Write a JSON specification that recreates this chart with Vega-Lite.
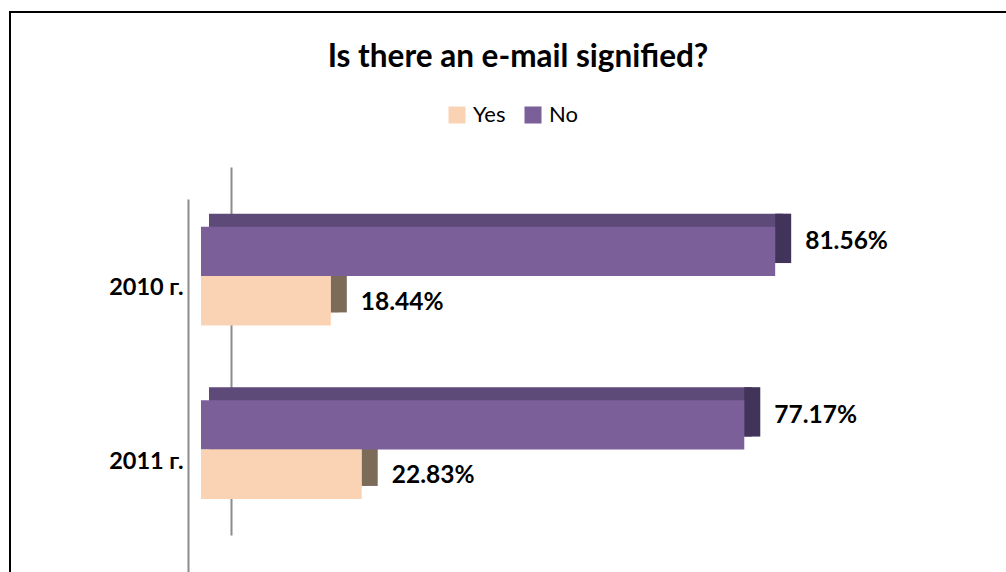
{
  "$schema": "https://vega.github.io/schema/vega-lite/v6.json",
  "autosize": {"type": "none"},
  "padding": {"left": 10, "top": 12, "right": 0, "bottom": 0},
  "width": 998,
  "height": 561,
  "background": "white",
  "config": {
    "view": {"stroke": "black", "strokeWidth": 2},
    "font": "Lato"
  },
  "title": {
    "text": "Is there an e-mail signified?",
    "font": "Lato",
    "fontSize": 31.5,
    "fontWeight": "bold",
    "color": "black",
    "anchor": "middle",
    "dx": 9,
    "offset": -61,
    "baseline": "top"
  },
  "data": {
    "values": [
      {"year": "2010 г.", "series": "No", "value": 81.56, "label": "81.56%"},
      {"year": "2010 г.", "series": "Yes", "value": 18.44, "label": "18.44%"},
      {"year": "2011 г.", "series": "No", "value": 77.17, "label": "77.17%"},
      {"year": "2011 г.", "series": "Yes", "value": 22.83, "label": "22.83%"}
    ]
  },
  "resolve": {"scale": {"y": "independent"}, "axis": {"y": "independent"}},
  "layer": [
    {
      "mark": {"type": "point", "opacity": 0},
      "encoding": {
        "x": {"field": "value", "type": "quantitative", "scale": {"domain": [-27.13, 114.63], "nice": false, "zero": false}, "axis": null},
        "y": {
          "field": "year", "type": "nominal",
          "scale": {"range": [187, 563]},
          "axis": {"orient": "left", "offset": -178, "domainColor": "#8c8c8c", "domainWidth": 2, "ticks": false, "labels": false, "title": null}
        }
      }
    },
    {
      "mark": {"type": "point", "opacity": 0},
      "encoding": {
        "x": {"field": "value", "type": "quantitative"},
        "y": {
          "field": "year", "type": "nominal",
          "scale": {"range": [155, 523]},
          "axis": {"orient": "left", "offset": -221, "domainColor": "#8c8c8c", "domainWidth": 2, "ticks": false, "labels": false, "title": null}
        }
      }
    },
    {
      "encoding": {
        "y": {
          "field": "year", "type": "nominal",
          "scale": {"paddingInner": 0.431, "paddingOuter": 0.832, "align": 0.7435, "range": [-13, 548]},
          "axis": null
        },
        "yOffset": {"field": "series", "type": "nominal", "sort": ["No", "Yes"], "scale": {"paddingInner": 0, "paddingOuter": 0}}
      },
      "layer": [
        {
          "mark": {"type": "bar", "xOffset": 8, "x2Offset": 8,
            "color": {"expr": "datum.series === 'Yes' ? '#d9b89c' : '#5e4a79'"}},
          "encoding": {
            "x": {"field": "value", "type": "quantitative"}
          }
        },
        {
          "mark": {"type": "bar", "x2Offset": 16,
            "color": {"expr": "datum.series === 'Yes' ? '#7d6b5a' : '#41335a'"}},
          "encoding": {
            "x": {"field": "value", "type": "quantitative"},
            "x2": {"field": "value"}
          }
        }
      ]
    },
    {
      "encoding": {
        "y": {
          "field": "year", "type": "nominal",
          "scale": {"paddingInner": 0.431, "paddingOuter": 0.832, "align": 0.7435},
          "axis": {"orient": "left", "offset": -178, "domain": false, "ticks": false, "labelPadding": 5, "labelOffset": 12, "labelFont": "Lato", "labelFontSize": 23.5, "labelFontWeight": "bold", "labelColor": "black", "title": null}
        },
        "yOffset": {"field": "series", "type": "nominal", "sort": ["No", "Yes"], "scale": {"paddingInner": 0, "paddingOuter": 0}}
      },
      "layer": [
        {
          "mark": {"type": "bar"},
          "encoding": {
            "x": {"field": "value", "type": "quantitative"},
            "color": {
              "field": "series", "type": "nominal",
              "scale": {"domain": ["Yes", "No"], "range": ["#fad3b4", "#7b5f99"]},
              "legend": {
                "orient": "none", "legendX": 436, "legendY": 92, "direction": "horizontal",
                "title": null, "symbolType": "square", "symbolSize": 289, "symbolStrokeWidth": 0,
                "labelFont": "Lato", "labelFontSize": 22, "labelColor": "black", "labelOffset": 5, "columnPadding": 16
              }
            }
          }
        },
        {
          "transform": [{"filter": "datum.series === 'No'"}],
          "mark": {"type": "text", "align": "left", "baseline": "middle", "dx": 30, "dy": -9, "font": "Lato", "fontSize": 24.5, "fontWeight": "bold", "color": "black"},
          "encoding": {
            "x": {"field": "value", "type": "quantitative"},
            "text": {"field": "label"}
          }
        },
        {
          "transform": [{"filter": "datum.series === 'Yes'"}],
          "mark": {"type": "text", "align": "left", "baseline": "middle", "dx": 30, "dy": 2, "font": "Lato", "fontSize": 24.5, "fontWeight": "bold", "color": "black"},
          "encoding": {
            "x": {"field": "value", "type": "quantitative"},
            "text": {"field": "label"}
          }
        }
      ]
    }
  ]
}
